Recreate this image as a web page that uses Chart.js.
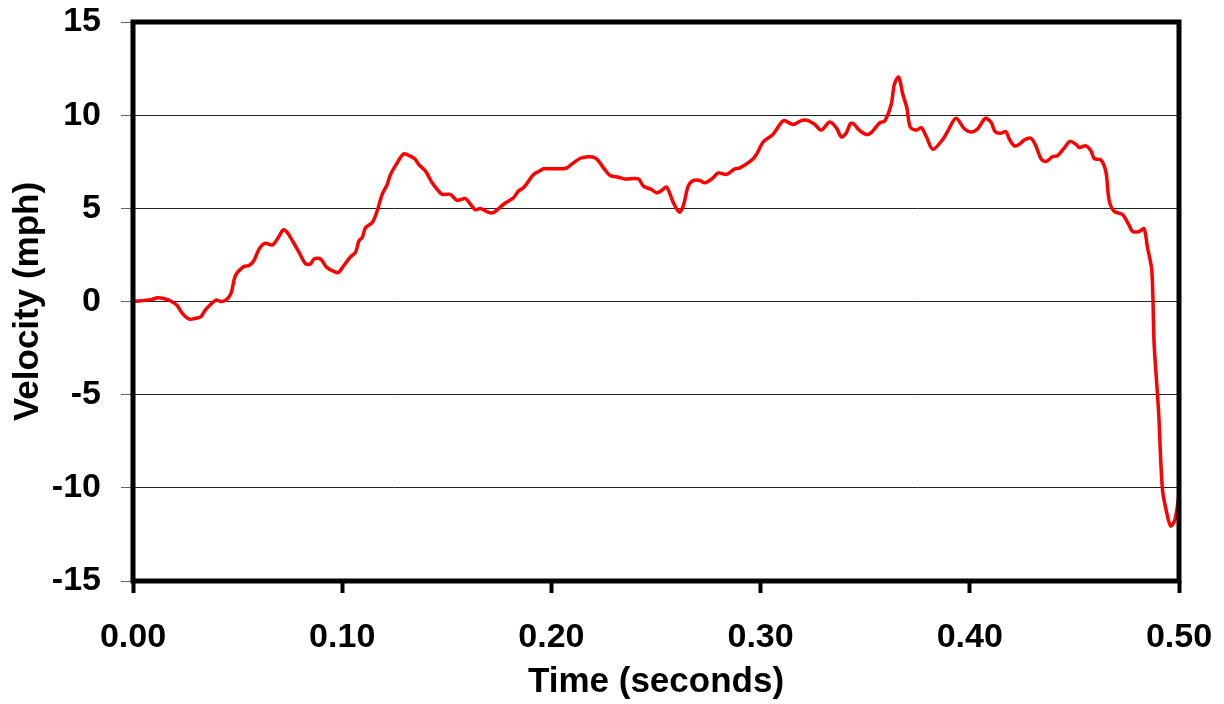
<!DOCTYPE html>
<html>
<head>
<meta charset="utf-8">
<script src="https://cdn.jsdelivr.net/npm/chart.js@4/dist/chart.umd.min.js"></script>
<style>
  html, body { margin: 0; padding: 0; background: #fff; }
  canvas { display: block; }
</style>
</head>
<body>
<canvas id="chart" width="1224" height="704"></canvas>
<script>
const timeS = [
  0, 0.0086, 0.0118, 0.015, 0.018, 0.021, 0.0237, 0.027, 0.030, 0.0324,
  0.0348, 0.0396, 0.042, 0.0444, 0.0468, 0.049, 0.053, 0.0555, 0.0578, 0.0603,
  0.063, 0.0666, 0.069, 0.0719, 0.0738, 0.0762, 0.0794, 0.0825, 0.0849, 0.0865,
  0.0897, 0.0926, 0.0968, 0.0984, 0.1008, 0.104, 0.1064, 0.108, 0.1096, 0.1112,
  0.1144, 0.1167, 0.1191, 0.1215, 0.1231, 0.1263, 0.1294, 0.1326, 0.135, 0.1366,
  0.1398, 0.143, 0.1454, 0.1478, 0.1517, 0.1549, 0.1589, 0.1613, 0.1637, 0.166,
  0.17, 0.1724, 0.1772, 0.1819, 0.1843, 0.1867, 0.1915, 0.1947, 0.1962, 0.205,
  0.2074, 0.2105, 0.2145, 0.2209, 0.2249, 0.2281, 0.232, 0.2352, 0.2416, 0.244,
  0.2479, 0.2503, 0.2527, 0.2551, 0.2583, 0.2611, 0.263, 0.2654, 0.2678, 0.271,
  0.2734, 0.2773, 0.2797, 0.2837, 0.2877, 0.2901, 0.2956, 0.298, 0.3012, 0.3059,
  0.3076, 0.311, 0.3155, 0.3195, 0.3227, 0.3259, 0.329, 0.333, 0.3362, 0.3386,
  0.341, 0.3429, 0.3445, 0.3473, 0.3505, 0.3529, 0.3569, 0.3593, 0.3624, 0.364,
  0.366, 0.368, 0.3699, 0.3715, 0.3744, 0.3768, 0.3791, 0.3823, 0.3871, 0.3895,
  0.3934, 0.3974, 0.4006, 0.4038, 0.4074, 0.4101, 0.4122, 0.4149, 0.4173, 0.4189,
  0.4213, 0.4237, 0.426, 0.4292, 0.4316, 0.434, 0.4364, 0.4396, 0.4419, 0.4451,
  0.4479, 0.4507, 0.4523, 0.4555, 0.4579, 0.4595, 0.4627, 0.4651, 0.4666, 0.469,
  0.473, 0.4762, 0.4778, 0.481, 0.4833, 0.4849, 0.487, 0.4881, 0.4902, 0.4921,
  0.4945, 0.4961, 0.4981, 0.5
];
const velocityMph = [
  0, 0.1, 0.2, 0.15, 0.03, -0.2, -0.65, -0.95, -0.9, -0.82,
  -0.42, 0.07, 0, 0.07, 0.42, 1.4, 1.88, 1.93, 2.2, 2.82,
  3.12, 3.03, 3.35, 3.85, 3.7, 3.26, 2.64, 2.02, 2.02, 2.28,
  2.28, 1.83, 1.57, 1.57, 1.93, 2.4, 2.64, 3.26, 3.44, 3.97,
  4.24, 4.86, 5.75, 6.28, 6.82, 7.44, 7.92, 7.8, 7.62, 7.35,
  7.0, 6.37, 6.02, 5.75, 5.75, 5.43, 5.52, 5.22, 4.92, 4.99,
  4.78, 4.78, 5.22, 5.57, 5.93, 6.11, 6.82, 7.03, 7.12, 7.12,
  7.17, 7.44, 7.71, 7.71, 7.17, 6.76, 6.67, 6.58, 6.58, 6.19,
  6.01, 5.83, 5.96, 6.14, 5.3, 4.8, 5.12, 6.19, 6.49, 6.49,
  6.37, 6.64, 6.9, 6.82, 7.12, 7.17, 7.57, 7.89, 8.56, 8.96,
  9.23, 9.71, 9.5, 9.71, 9.71, 9.5, 9.2, 9.63, 9.32, 8.83,
  9.06, 9.55, 9.53, 9.18, 8.96, 9.06, 9.59, 9.68, 10.57, 11.68,
  12.04, 11.11, 10.4, 9.37, 9.2, 9.32, 8.88, 8.17, 8.7, 9.15,
  9.83, 9.27, 9.1, 9.27, 9.83, 9.63, 9.1, 9.03, 9.12, 8.71,
  8.35, 8.44, 8.67, 8.76, 8.35, 7.67, 7.51, 7.78, 7.82, 8.23,
  8.59, 8.44, 8.27, 8.35, 8.09, 7.67, 7.6, 6.93, 5.42, 4.84,
  4.67, 4.08, 3.76, 3.76, 3.9, 2.92, 1.67, -2.25, -5.82, -10.1,
  -11.52, -12.05, -11.7, -10.36
];
const xTicks = [0, 0.1, 0.2, 0.3, 0.4, 0.5];
const yTicks = [-15, -10, -5, 0, 5, 10, 15];

const fontFamily = "'Liberation Sans', Arial, sans-serif";
const points = timeS.map((t, i) => ({ x: t, y: velocityMph[i] }));

// thick black box round the plot area, like the Excel original
const frame = {
  id: "frame",
  afterDraw(chart) {
    const { ctx, chartArea: a } = chart;
    ctx.save();
    ctx.strokeStyle = "#000";
    ctx.lineWidth = 5;
    ctx.strokeRect(a.left, a.top, a.right - a.left, a.bottom - a.top);
    ctx.restore();
  },
};

new Chart(document.querySelector("#chart"), {
  type: "scatter",
  data: {
    datasets: [
      {
        data: points,
        showLine: true,
        borderColor: "#ff0000",
        borderWidth: 3.5,
        pointRadius: 0,
        tension: 0.3,
      },
    ],
  },
  options: {
    responsive: false,
    animation: false,
    layout: { padding: { top: 22, right: 45, left: 0, bottom: 0 } },
    plugins: { legend: { display: false }, tooltip: { enabled: false } },
    scales: {
      x: {
        type: "linear",
        min: 0,
        max: 0.5,
        afterBuildTicks: (scale) => {
          scale.ticks = xTicks.map((v) => ({ value: v }));
        },
        afterFit: (scale) => {
          scale.height = 123;
          scale.paddingLeft = 0;
          scale.paddingRight = 0;
        },
        ticks: {
          color: "#000",
          padding: 24,
          font: { family: fontFamily, size: 34, weight: "bold" },
          callback: (v) => Number(v).toFixed(2),
        },
        grid: {
          drawOnChartArea: false,
          drawTicks: true,
          tickLength: 12,
          tickWidth: 4,
          tickColor: "#000",
        },
        border: { display: false },
        title: {
          display: true,
          text: "Time (seconds)",
          color: "#000",
          padding: { top: 0, bottom: 1 },
          font: { family: fontFamily, size: 35, weight: "bold" },
        },
      },
      y: {
        min: -15,
        max: 15,
        afterBuildTicks: (scale) => {
          scale.ticks = yTicks.map((v) => ({ value: v }));
        },
        afterFit: (scale) => {
          scale.width = 133;
          scale.paddingTop = 0;
          scale.paddingBottom = 0;
        },
        ticks: {
          color: "#000",
          padding: 20,
          font: { family: fontFamily, size: 34, weight: "bold" },
        },
        grid: {
          color: "#222",
          lineWidth: 1,
          tickLength: 12,
          tickColor: "#666",
        },
        border: { display: false },
        title: {
          display: true,
          text: "Velocity (mph)",
          color: "#000",
          padding: { top: 7, bottom: 0 },
          font: { family: fontFamily, size: 35, weight: "bold" },
        },
      },
    },
  },
  plugins: [frame],
});
</script>
</body>
</html>
